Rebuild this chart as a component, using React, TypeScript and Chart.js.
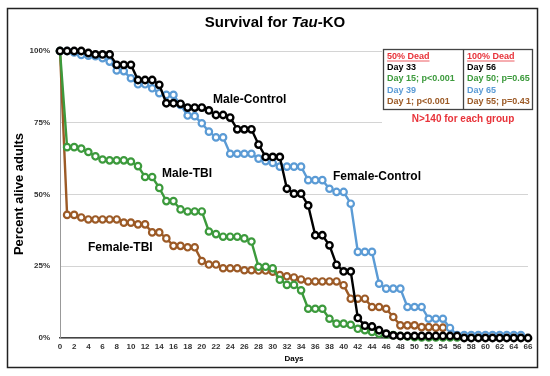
import React, { useEffect, useRef } from "react";
import { Chart, registerables } from "chart.js";

Chart.register(...registerables);

const days = [
  0, 1, 2, 3, 4, 5, 6, 7, 8, 9, 10, 11, 12, 13, 14, 15, 16, 17, 18, 19, 20,
  21, 22, 23, 24, 25, 26, 27, 28, 29, 30, 31, 32, 33, 34, 35, 36, 37, 38, 39,
  40, 41, 42, 43, 44, 45, 46, 47, 48, 49, 50, 51, 52, 53, 54, 55, 56, 57, 58,
  59, 60, 61, 62, 63, 64, 65, 66,
];

const maleControl = [
  100, 100, 100, 100, 99.3, 98.8, 98.8, 98.8, 95.2, 95.2, 95.2, 89.9, 89.9,
  89.9, 88.2, 81.8, 81.8, 81.6, 80.3, 80.3, 80.3, 79.3, 77.7, 77.7, 76.8, 72.7,
  72.7, 72.7, 67.4, 63.1, 63.1, 63.1, 52, 50.3, 50.3, 46.2, 35.8, 35.8, 32.3,
  25.5, 23.2, 23.2, 7.0, 4.3, 4.0, 2.7, 1.5, 0.9, 0.7, 0.7, 0.7, 0.7, 0.7, 0.7,
  0.7, 0.7, 0.7, 0, 0, 0, 0, 0, 0, 0, 0, 0, 0,
];

const femaleControl = [
  100, 100, 99.5, 98.6, 98.4, 98.2, 97.5, 96.3, 93.2, 93, 90.5, 88.4, 88.4, 87,
  85.3, 84.7, 84.7, 81.2, 77.5, 77.3, 74.8, 71.9, 69.9, 69.9, 64.2, 64.2, 64.2,
  64.2, 62.5, 61.6, 61, 59.7, 59.7, 59.7, 59.7, 55, 55, 55, 52, 50.9, 50.9,
  46.8, 30, 30, 30, 18.9, 17.2, 17.2, 17.2, 10.8, 10.8, 10.8, 6.7, 6.7, 6.7,
  3.5, 1, 1, 1, 1, 1, 1, 1, 1, 1, 1, null,
];

const maleTBI = [
  100, 66.5, 66.5, 66, 64.8, 63.3, 62.2, 61.9, 61.9, 61.9, 61.5, 59.9, 56.1,
  56.1, 52.3, 47.7, 47.7, 44.8, 44.1, 44.1, 44.1, 37.1, 36.2, 35.3, 35.3, 35.3,
  34.7, 33.6, 24.8, 24.8, 24.3, 20.3, 18.5, 18.5, 16.6, 10.2, 10.2, 10.2, 6.7,
  5.0, 5.0, 4.6, 3.2, 2.7, 2.1, 1.5, 1.2, 1.0, 0.7, 0.5, 0.3, 0.2, 0.2, 0.2,
  0.2, 0.2, 0.2, null, null, null, null, null, null, null, null, null, null,
];

const femaleTBI = [
  100, 42.9, 42.9, 42, 41.3, 41.3, 41.3, 41.3, 41.3, 40.2, 40.2, 39.6, 39.6,
  36.8, 36.8, 34.7, 32.1, 32.1, 31.6, 31.6, 26.8, 25.6, 25.6, 24.3, 24.3, 24.3,
  23.6, 23.6, 23.5, 23.5, 23.1, 21.9, 21.5, 21.1, 20.4, 19.7, 19.7, 19.7, 19.7,
  19.7, 18.4, 13.7, 13.7, 13.7, 10.8, 10.8, 10.2, 7.3, 4.4, 4.4, 4.4, 3.8, 3.8,
  3.6, 3.6, null, null, null, null, null, null, null, null, null, null, null,
  null,
];

const yTicks = [0, 25, 50, 75, 100];
const seriesNames = ["Male-Control", "Female-Control", "Male-TBI", "Female-TBI"];
const deadHeaders = ["50% Dead", "100% Dead"];
const dead50 = ["Day 33", "Day 15; p<0.001", "Day 39", "Day 1; p<0.001"];
const dead100 = ["Day 56", "Day 50; p=0.65", "Day 65", "Day 55; p=0.43"];
const noteText = "N>140 for each group";

const BLACK = "#000000";
const BLUE = "#5b9bd5";
const GREEN = "#3c9a3c";
const BROWN = "#9c5a26";
const COLORS = [BLACK, BLUE, GREEN, BROWN];
const ROW_COLORS = [BLACK, GREEN, BLUE, BROWN];
const RED = "#e8333a";
const FONT = '"Liberation Sans", Arial, Helvetica, sans-serif';

function toPoints(vals: (number | null)[]) {
  const out: { x: number; y: number }[] = [];
  vals.forEach((v, i) => {
    if (v !== null) out.push({ x: days[i], y: v });
  });
  return out;
}

const overlay = {
  id: "overlay",
  afterDraw(chart: any) {
    const ctx = chart.ctx as CanvasRenderingContext2D;
    const xs = chart.scales.x;
    ctx.save();

    // title
    ctx.fillStyle = "#000";
    ctx.textBaseline = "middle";
    const parts = [
      { t: "Survival for ", f: `bold 15px ${FONT}` },
      { t: "Tau", f: `italic bold 15px ${FONT}` },
      { t: "-KO", f: `bold 15px ${FONT}` },
    ];
    let total = 0;
    parts.forEach((p) => {
      ctx.font = p.f;
      total += ctx.measureText(p.t).width;
    });
    let tx = 275 - total / 2;
    ctx.textAlign = "left";
    parts.forEach((p) => {
      ctx.font = p.f;
      ctx.fillText(p.t, tx, 23);
      tx += ctx.measureText(p.t).width;
    });

    // y axis title
    ctx.save();
    ctx.translate(19, 194);
    ctx.rotate(-Math.PI / 2);
    ctx.font = `bold 13px ${FONT}`;
    ctx.textAlign = "center";
    ctx.fillText("Percent alive adults", 0, 0);
    ctx.restore();

    // x axis title
    ctx.font = `bold 8px ${FONT}`;
    ctx.textAlign = "center";
    ctx.fillText("Days", (xs.left + xs.right) / 2, 359);

    // series labels
    ctx.font = `bold 12px ${FONT}`;
    ctx.textAlign = "left";
    const labelPos = [
      [213, 100],
      [333, 177],
      [162, 174],
      [88, 248],
    ];
    seriesNames.forEach((n, i) => {
      ctx.fillText(n, labelPos[i][0], labelPos[i][1]);
    });

    // legend table
    ctx.fillStyle = "#fff";
    ctx.fillRect(382, 42, 155, 86);
    ctx.strokeStyle = "#444";
    ctx.lineWidth = 1.3;
    ctx.strokeRect(383.5, 49.5, 149, 60);
    ctx.beginPath();
    ctx.moveTo(463.5, 49.5);
    ctx.lineTo(463.5, 109.5);
    ctx.stroke();

    ctx.font = `bold 9px ${FONT}`;
    ctx.textBaseline = "middle";
    const cols = [387, 467];
    const rowsY = [56.5, 67.7, 78.9, 90.1, 101.3];
    [dead50, dead100].forEach((list, c) => {
      ctx.fillStyle = RED;
      ctx.fillText(deadHeaders[c], cols[c], rowsY[0]);
      const w = ctx.measureText(deadHeaders[c]).width;
      ctx.strokeStyle = RED;
      ctx.lineWidth = 0.8;
      ctx.beginPath();
      ctx.moveTo(cols[c], rowsY[0] + 4.5);
      ctx.lineTo(cols[c] + w, rowsY[0] + 4.5);
      ctx.stroke();
      list.forEach((t, r) => {
        ctx.fillStyle = ROW_COLORS[r];
        ctx.fillText(t, cols[c], rowsY[r + 1]);
      });
    });

    ctx.font = `bold 10px ${FONT}`;
    ctx.fillStyle = RED;
    ctx.textAlign = "center";
    ctx.fillText(noteText, 463, 119);

    // outer frame
    ctx.strokeStyle = "#222";
    ctx.lineWidth = 1.5;
    ctx.strokeRect(7.5, 8.5, 530, 359);

    ctx.restore();
  },
};

export default function App() {
  const ref = useRef<HTMLCanvasElement | null>(null);

  useEffect(() => {
    document.body.style.margin = "0";
    const canvas = ref.current;
    if (!canvas) return;
    const seriesVals = [maleControl, femaleControl, maleTBI, femaleTBI];
    const chart = new Chart(canvas, {
      type: "line",
      data: {
        datasets: seriesVals.map((vals, i) => ({
          label: seriesNames[i],
          data: toPoints(vals),
          borderColor: COLORS[i],
          backgroundColor: "#ffffff",
          pointBackgroundColor: "#ffffff",
          pointBorderColor: COLORS[i],
          pointRadius: 3.2,
          pointBorderWidth: i === 0 ? 2.4 : 2.2,
          borderWidth: 2.4,
          tension: 0,
          clip: false as any,
        })),
      },
      plugins: [overlay],
      options: {
        animation: false,
        responsive: false,
        devicePixelRatio: 1,
        layout: { padding: { left: 0, right: 22, top: 51, bottom: 0 } },
        plugins: {
          legend: { display: false },
          tooltip: { enabled: false },
          title: { display: false },
        },
        scales: {
          x: {
            type: "linear",
            min: 0,
            max: 66,
            grid: { display: false, drawTicks: false },
            border: { color: "#444", width: 1.5 },
            afterFit: (s: any) => {
              s.height = 38;
            },
            ticks: {
              stepSize: 2,
              autoSkip: false,
              maxRotation: 0,
              padding: 4,
              color: "#333",
              font: { family: FONT, size: 8, weight: "bold" },
            },
          },
          y: {
            min: 0,
            max: 100,
            afterFit: (s: any) => {
              s.width = 60;
            },
            afterBuildTicks: (s: any) => {
              s.ticks = yTicks.map((v) => ({ value: v }));
            },
            grid: { color: "#d4d4d4", lineWidth: 1, drawTicks: false },
            border: { color: "#999", width: 1 },
            ticks: {
              padding: 10,
              color: "#333",
              font: { family: FONT, size: 8, weight: "bold" },
              callback: (v: any) => `${v}%`,
            },
          },
        },
      } as any,
    });
    return () => chart.destroy();
  }, []);

  return (
    <div style={{ width: 550, height: 376, background: "#fff" }}>
      <canvas ref={ref} width={550} height={376} />
    </div>
  );
}
